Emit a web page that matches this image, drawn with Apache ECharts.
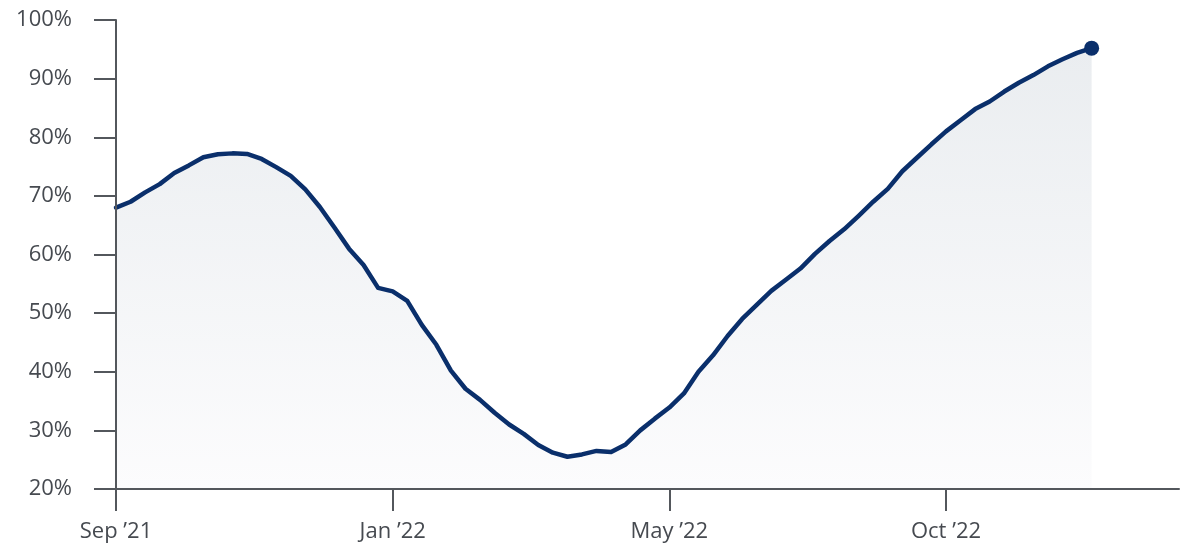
<!DOCTYPE html>
<html>
<head>
<meta charset="utf-8">
<script src="https://cdn.jsdelivr.net/npm/echarts@6/dist/echarts.min.js"></script>
<style>
  html, body { margin: 0; padding: 0; background: #ffffff; }
  #chart { width: 1184px; height: 551px; }
</style>
</head>
<body>
<div id="chart"></div>
<script>
// Weekly observations starting 2021-09-01 (share, %)
const startDate = "2021-09-01";
const weeksOnAxis = 74;
const values = [
  68.0, 69.0, 70.6, 72.0, 73.9, 75.2, 76.6, 77.1, 77.25, 77.15,
  76.3, 74.9, 73.4, 71.1, 68.1, 64.6, 61.0, 58.2, 54.3, 53.7,
  52.1, 48.0, 44.6, 40.2, 37.1, 35.2, 33.0, 31.0, 29.4, 27.5,
  26.2, 25.5, 25.9, 26.5, 26.3, 27.6, 30.0, 32.0, 33.9, 36.3,
  40.0, 42.8, 46.1, 49.0, 51.4, 53.8, 55.7, 57.6, 60.1, 62.3,
  64.3, 66.6, 69.0, 71.2, 74.2, 76.5, 78.8, 81.0, 82.9, 84.8,
  86.1, 87.8, 89.3, 90.6, 92.1, 93.3, 94.4, 95.2
];
const tickEvery = 19;               // a labelled tick every 19 weeks
const monthNames = ["Jan","Feb","Mar","Apr","May","Jun","Jul","Aug","Sep","Oct","Nov","Dec"];

// category list: weekly dates
const categories = [];
{
  const d0 = new Date(startDate + "T00:00:00Z");
  for (let i = 0; i < weeksOnAxis; i++) {
    const d = new Date(d0.getTime() + i * 7 * 86400000);
    categories.push(d.toISOString().slice(0, 10));
  }
}
function fmtDate(s) {
  const m = parseInt(s.slice(5, 7), 10) - 1;
  return monthNames[m] + " \u2019" + s.slice(2, 4);
}

const axisColor = "#53575c";
const textColor = "#464a50";
const lineColor = "#0a2f6b";
const fontFamily = "'Open Sans', 'Noto Sans', sans-serif";

const chart = echarts.init(document.getElementById("chart"), null, { renderer: "canvas" });
chart.setOption({
  animation: false,
  backgroundColor: "#ffffff",
  grid: { left: 116, right: 5, top: 20, bottom: 62, containLabel: false },
  xAxis: {
    type: "category",
    data: categories,
    boundaryGap: false,
    z: 10,
    axisLine: { show: true, lineStyle: { color: axisColor, width: 2 } },
    axisTick: {
      show: true, length: 22, inside: false,
      interval: (i) => i % tickEvery === 0,
      lineStyle: { color: axisColor, width: 2 }
    },
    axisLabel: {
      interval: (i) => i % tickEvery === 0,
      formatter: (v) => fmtDate(v),
      color: textColor, fontSize: 22, fontFamily: fontFamily, margin: 32
    },
    splitLine: { show: false }
  },
  yAxis: {
    type: "value",
    min: 20, max: 100, interval: 10,
    z: 10,
    axisLine: { show: true, lineStyle: { color: axisColor, width: 2 } },
    axisTick: { show: true, length: 22, lineStyle: { color: axisColor, width: 2 } },
    axisLabel: {
      formatter: "{value}%",
      color: textColor, fontSize: 22, fontFamily: fontFamily, margin: 44
    },
    splitLine: { show: false }
  },
  series: [
    {
      type: "line",
      data: values,
      symbol: "none",
      smooth: false,
      lineStyle: { color: lineColor, width: 4.5, cap: "round", join: "round" },
      areaStyle: {
        opacity: 1,
        color: new echarts.graphic.LinearGradient(0, 0, 0, 1, [
          { offset: 0, color: "#eaedf0" },
          { offset: 1, color: "#fcfcfd" }
        ])
      },
      z: 3
    },
    {
      type: "scatter",
      data: [[categories[values.length - 1], values[values.length - 1]]],
      symbol: "circle",
      symbolSize: 15,
      itemStyle: { color: lineColor, opacity: 1 },
      z: 4
    }
  ]
});
</script>
</body>
</html>
